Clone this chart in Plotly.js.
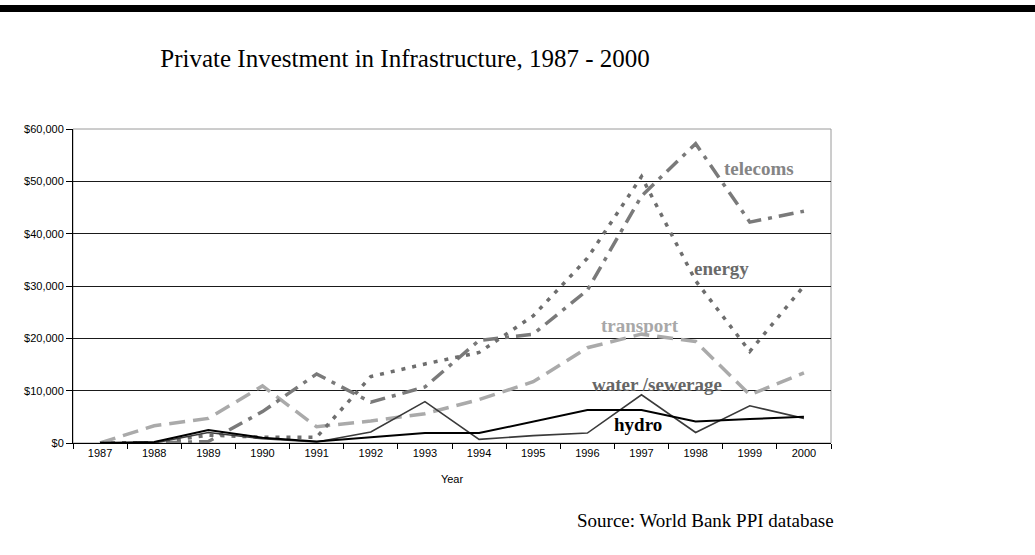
<!DOCTYPE html>
<html>
<head>
<meta charset="utf-8">
<script src="https://cdn.plot.ly/plotly-3.0.1.min.js"></script>
<style>
html,body{margin:0;padding:0;background:#fff;}
#bar{position:absolute;left:0;top:5px;width:1035px;height:7px;background:#000;}
#chart{width:1035px;height:555px;}
</style>
</head>
<body>
<div id="chart"></div>
<div id="bar"></div>
<script>
const years = ["1987","1988","1989","1990","1991","1992","1993","1994","1995","1996","1997","1998","1999","2000"];
const telecoms = [0, 0, 300, 6000, 13200, 7800, 10700, 19600, 20800, 29200, 47200, 57200, 42200, 44300];
const energy = [0, 0, 1500, 1100, 1100, 12700, 15100, 17300, 24300, 35300, 50900, 31000, 17500, 30000];
const transport = [0, 3300, 4700, 10900, 3100, 4200, 5600, 8300, 11700, 18200, 20800, 19400, 9200, 13400];
const water = [0, 0, 2000, 800, 200, 2100, 7900, 700, 1400, 1900, 9200, 2000, 7100, 4700];
const hydro = [0, 200, 2500, 1000, 300, 1100, 1900, 1900, 4100, 6300, 6300, 4100, 4600, 5000];
const seriesNames = ["telecoms","energy","transport","water /sewerage","hydro"];

const traces = [
  {x: years, y: transport, name: seriesNames[2], mode: "lines",
   line: {color: "#aaaaaa", width: 3.5, dash: "16px,8px"}},
  {x: years, y: telecoms, name: seriesNames[0], mode: "lines",
   line: {color: "#7a7a7a", width: 3.5, dash: "15px,7px,4px,7px"}},
  {x: years, y: energy, name: seriesNames[1], mode: "lines",
   line: {color: "#6e6e6e", width: 3.5, dash: "4px,7px"}},
  {x: years, y: water, name: seriesNames[3], mode: "lines",
   line: {color: "#3a3a3a", width: 1.6}},
  {x: years, y: hydro, name: seriesNames[4], mode: "lines",
   line: {color: "#000000", width: 2}}
];

const lblFont = (c) => ({family: "Liberation Serif, Times New Roman, serif", size: 19, color: c, weight: "bold"});
const axFont = {family: "Liberation Sans, Arial, sans-serif", size: 11, color: "#000"};

const layout = {
  width: 1035, height: 555,
  margin: {l: 73, r: 204, t: 129, b: 112},
  paper_bgcolor: "#fff", plot_bgcolor: "#fff",
  showlegend: false,
  title: {text: "Private Investment in Infrastructure, 1987 - 2000",
          font: {family: "Liberation Serif, Times New Roman, serif", size: 25, color: "#000"},
          x: 405/1035, xref: "container", xanchor: "center",
          y: 1 - 58/555, yref: "container", yanchor: "middle"},
  xaxis: {type: "category", range: [-0.5, 13.5], showgrid: false, zeroline: false,
          showline: true, linecolor: "#000", linewidth: 1,
          ticks: "outside", ticklen: 5, tickcolor: "#000", tickson: "boundaries",
          tickfont: axFont,
          title: {text: "Year", font: axFont, standoff: 17}},
  yaxis: {range: [0, 60000], dtick: 10000, tickprefix: "$", tickformat: ",d",
          showgrid: true, gridcolor: "#1a1a1a", gridwidth: 1, zeroline: false,
          showline: true, linecolor: "#000", linewidth: 1,
          ticks: "outside", ticklen: 6, tickcolor: "#000",
          tickfont: axFont},
  shapes: [
    {type: "rect", xref: "paper", yref: "paper", x0: 0, x1: 1, y0: 0, y1: 1,
     line: {color: "#9a9a9a", width: 1}, layer: "below"}
  ],
  annotations: [
    {text: seriesNames[0], x: 12.17, y: 52500, xref: "x", yref: "y", showarrow: false, font: lblFont("#858585")},
    {text: seriesNames[1], x: 11.47, y: 33400, xref: "x", yref: "y", showarrow: false, font: lblFont("#6a6a6a")},
    {text: seriesNames[2], x: 9.98, y: 22400, xref: "x", yref: "y", showarrow: false, font: lblFont("#a8a8a8")},
    {text: seriesNames[3], x: 10.28, y: 11100, xref: "x", yref: "y", showarrow: false, font: lblFont("#666666")},
    {text: seriesNames[4], x: 9.94, y: 3450, xref: "x", yref: "y", showarrow: false, font: lblFont("#000000")},
    {text: "Source: World Bank PPI database", xref: "paper", yref: "paper",
     x: (705-73)/758, y: (443-520)/314, xanchor: "center", yanchor: "middle", showarrow: false,
     font: {family: "Liberation Serif, Times New Roman, serif", size: 19, color: "#000"}}
  ]
};

Plotly.newPlot("chart", traces, layout, {displayModeBar: false, staticPlot: true});
</script>
</body>
</html>
